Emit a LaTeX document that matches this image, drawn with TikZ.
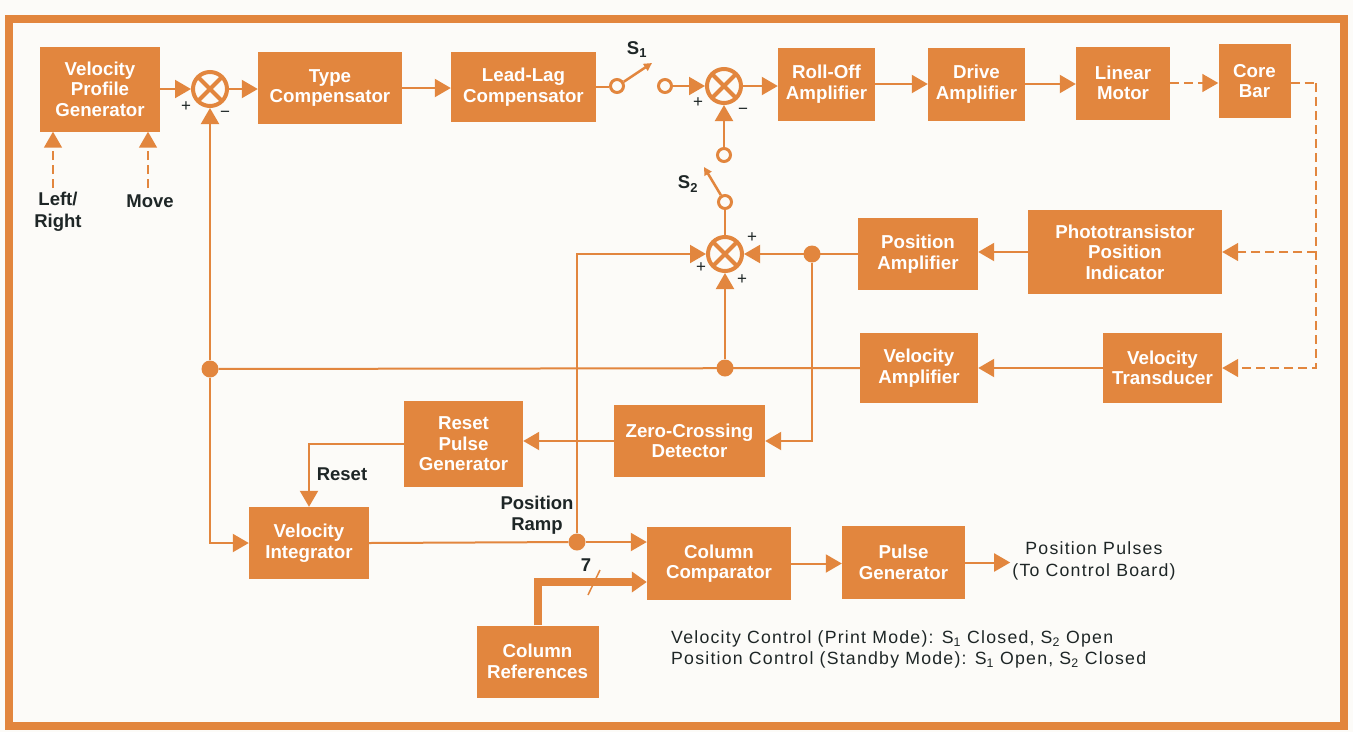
\documentclass[tikz,border=0pt]{standalone}
\usepackage{fontspec}
\setmainfont{Liberation Sans}
\newfontfamily\notefont[LetterSpace=7]{Liberation Sans}
\usetikzlibrary{arrows.meta,calc}
\definecolor{hpor}{RGB}{226,134,62}
\definecolor{ink}{RGB}{30,38,38}
\definecolor{paper}{RGB}{252,251,248}
\begin{document}
\begin{tikzpicture}[x=1pt,y=-1pt,
  box/.style 2 args={fill=hpor, text=white, font=\fontsize{18.7}{20.5}\selectfont\bfseries, align=center, inner sep=0pt, minimum width=#1pt, minimum height=#2pt},
  sumj/.style={circle, draw=hpor, line width=4pt, minimum size=34pt, inner sep=0pt,
    path picture={\draw[hpor,line width=4pt] (path picture bounding box.north west) -- (path picture bounding box.south east) (path picture bounding box.north east) -- (path picture bounding box.south west);}},
  sw/.style={circle, draw=hpor, line width=3pt, minimum size=13pt, inner sep=0pt, fill=paper},
  dot/.style={circle, fill=hpor, minimum size=17pt, inner sep=0pt},
  conn/.style={draw=hpor, line width=2pt},
  arr/.style={conn, -{Triangle[length=16pt,width=18pt]}},
  blade/.style={draw=hpor, line width=2.5pt, -{Triangle[length=8pt,width=8pt]}},
  dsh/.style={draw=hpor, line width=1.5pt, dash pattern=on 9pt off 5pt},
  darr/.style={dsh, -{Triangle[length=16pt,width=18pt]}},
  bus/.style={draw=hpor, line width=8pt, -{Triangle[length=15pt,width=20pt]}},
  lbl/.style={text=ink, font=\fontsize{18.5}{21.5}\selectfont\bfseries, align=center, inner sep=1pt},
  note/.style={text=ink, font=\notefont\fontsize{17.7}{21.5}\selectfont, align=center, inner sep=2pt},
  pm/.style={text=ink, font=\fontsize{17}{17}\selectfont, inner sep=0pt}
]
\useasboundingbox (0,0) rectangle (1353,732);
\fill[paper] (0,0) rectangle (1353,732);
\draw[hpor, line width=8pt] (9,18.5) rectangle (1344,726);

% boxes
\node[box={120}{85}] (vpg) at (100,89) {Velocity\\Profile\\Generator};
\node[box={144}{72}] (tc) at (330,88) {Type\\Compensator};
\node[box={145}{70}] (llc) at (523.5,87) {Lead-Lag\\Compensator};
\node[box={97}{73}] (roa) at (826.5,84) {Roll-Off\\Amplifier};
\node[box={97}{73}] (da) at (976.5,84) {Drive\\Amplifier};
\node[box={94}{73}] (lm) at (1123,83) {Linear\\Motor};
\node[box={72}{74}] (cb) at (1254.5,81) {Core\\Bar};
\node[box={120}{72}] (pa) at (918,254) {Position\\Amplifier};
\node[box={194}{84}] (ppi) at (1125,252) {Phototransistor\\Position\\Indicator};
\node[box={118}{70}] (va) at (919,368) {Velocity\\Amplifier};
\node[box={119}{70}] (vt) at (1162.5,368) {Velocity\\Transducer};
\node[box={151}{72}] (zcd) at (689.5,441) {Zero-Crossing\\Detector};
\node[box={119}{86}] (rpg) at (463.5,444) {Reset\\Pulse\\Generator};
\node[box={120}{72}] (vi) at (309,543) {Velocity\\Integrator};
\node[box={144}{73}] (cc) at (719,563.5) {Column\\Comparator};
\node[box={123}{73}] (pg) at (903.5,562.5) {Pulse\\Generator};
\node[box={122}{72}] (cr) at (537.5,661.5) {Column\\References};

% summing junctions
\node[sumj] (s1) at (210,89) {};
\node[sumj] (s2) at (724,86) {};
\node[sumj] (s3) at (725,254) {};

% switch contacts
\node[sw] (c1) at (617,86) {};
\node[sw] (c2) at (665,86) {};
\node[sw] (c3) at (724,155) {};
\node[sw] (c4) at (725,202) {};
\coordinate (b1) at (652,63);
\coordinate (b2) at (704,167);

% dots
\node[dot] (d1) at (812,254) {};
\node[dot] (d2) at (725,368) {};
\node[dot] (d3) at (210,369) {};
\node[dot] (d4) at (577,542) {};

% forward path
\draw[arr] (vpg.east) -- (vpg.east -| s1.west);
\draw[arr] (s1.east) -- (s1.east -| tc.west);
\draw[arr] (tc.east) -- (tc.east -| llc.west);
\draw[conn] (llc.east) -- (llc.east -| c1.west);
\draw[blade] (c1.32) -- (b1);
\draw[arr] (c2.east) -- (s2.west);
\draw[arr] (s2.east) -- (s2.east -| roa.west);
\draw[arr] (roa.east) -- (roa.east -| da.west);
\draw[arr] (da.east) -- (da.east -| lm.west);
\draw[darr] (lm.east) -- (lm.east -| cb.west);

% core bar feedback (dashed)
\coordinate (rt) at (1316,83);
\draw[dsh] (cb.east |- rt) -- (rt);
\draw[darr] (rt) |- (vt.east);
\draw[darr] (rt |- ppi.east) -- (ppi.east);

% position loop
\draw[arr] (c3.north) -- (s2.south);
\draw[blade] (c4.121) -- (b2);
\draw[conn] (c4.south) -- (s3.north);
\draw[arr] (ppi.west) -- (ppi.west -| pa.east);
\draw[arr] (pa.west) -- (s3.east);
\draw[arr] (d1) |- (zcd.east);
\draw[arr] (d4) |- (s3.west);
\draw[arr] (d2) -- (s3.south);

% velocity loop
\draw[arr] (vt.west) -- (va.east);
\draw[conn] (va.west) -- (d3);
\draw[arr] (d3) -- (s1.south);
\draw[arr] (d3) |- (vi.west);

% reset / integrator
\draw[arr] (zcd.west) -- (zcd.west -| rpg.east);
\draw[arr] (rpg.west) -| (vi.north);
\draw[conn] (vi.east) -- (d4);
\draw[arr] (d4) -- (d4 -| cc.west);

% column references bus
\coordinate (busy) at (600,582);
\draw[bus] (cr.north) |- (cc.west |- busy);
\coordinate (sl1) at (588,595);
\coordinate (sl2) at (600,570);
\draw[hpor, line width=1.5pt] (sl1) -- (sl2);
\node[lbl] (seven) at (586,565) {7};

% output
\node[note] (pp) at (1094,561) {Position Pulses\\(To Control Board)};
\draw[arr] (pg.east) -- (pg.east -| pp.west);
\draw[arr] (cc.east) -- (cc.east -| pg.west);

% inputs
\coordinate (lrs) at (53,188);
\coordinate (mvs) at (148,188);
\draw[darr] (lrs) -- (lrs |- vpg.south);
\draw[darr] (mvs) -- (mvs |- vpg.south);
\node[lbl] (lrt) at (58,212) {Left/\\Right};
\node[lbl] (mvt) at (150,201) {Move};

% labels
\node[lbl] (s1l) at (637,50) {S\textsubscript{1}};
\node[lbl] (s2l) at (688,184) {S\textsubscript{2}};
\node[lbl] (rst) at (342,474) {Reset};
\node[lbl] (prl) at (537,515) {Position\\Ramp};

\node[pm] (p1a) at (186,107) {+};
\node[pm] (p1b) at (225,114) {−};
\node[pm] (p2a) at (698,103) {+};
\node[pm] (p2b) at (743,111) {−};
\node[pm] (p3a) at (752,238) {+};
\node[pm] (p3b) at (701,268) {+};
\node[pm] (p3c) at (742,280) {+};

% notes
\node[note, anchor=west] (n1) at (669,639) {Velocity Control (Print Mode): S\textsubscript{1} Closed, S\textsubscript{2} Open};
\node[note, anchor=west] (n2) at (669,660) {Position Control (Standby Mode): S\textsubscript{1} Open, S\textsubscript{2} Closed};
\end{tikzpicture}
\end{document}
